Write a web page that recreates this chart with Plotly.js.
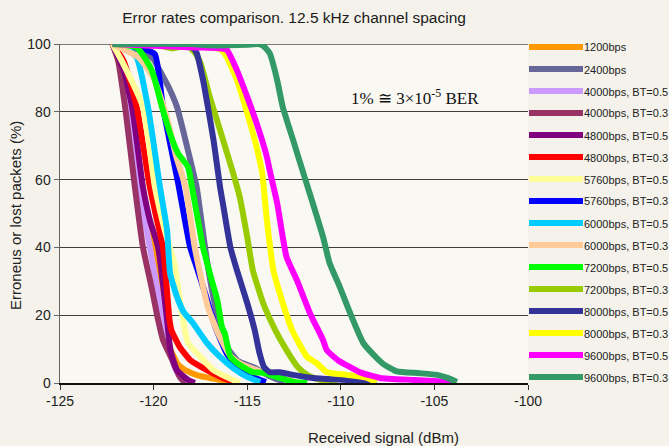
<!DOCTYPE html>
<html>
<head>
<meta charset="utf-8">
<script src="https://cdn.plot.ly/plotly-3.0.1.min.js"></script>
<style>
html,body{margin:0;padding:0;background:#f4f2ea;}
#chart{width:669px;height:446px;}
</style>
</head>
<body>
<div id="chart"></div>
<script>
// ---- series names & colours ----
const seriesNames = ['1200bps','2400bps','4000bps, BT=0.5','4000bps, BT=0.3','4800bps, BT=0.5','4800bps, BT=0.3',
  '5760bps, BT=0.5','5760bps, BT=0.3','6000bps, BT=0.5','6000bps, BT=0.3','7200bps, BT=0.5','7200bps, BT=0.3',
  '8000bps, BT=0.5','8000bps, BT=0.3','9600bps, BT=0.5','9600bps, BT=0.3'];
const seriesColors = ['#ff9900','#666699','#cc99ff','#993366','#800080','#ff0000','#ffff99','#0000ff',
  '#00ccff','#ffcc99','#00ff00','#99cc00','#333399','#ffff00','#ff00ff','#339966'];

// ---- x (received signal, dBm) and y (erroneous/lost packets, %) per series ----
const x1200 = [-122.2,-121.7,-121.2,-120.65,-120.2,-119.9,-119.6,-119.4,-119.1,-118.7,-118.2,-117.6,-116.8,-115.9];
const y1200 = [100,92,80,58,47,40,28,19,10,5.5,3.5,2.2,1.3,0.3];

const x2400 = [-122.2,-120.6,-120.0,-119.77,-119.2,-118.75,-118.3,-117.95,-117.7,-117.45,-117.2,-116.9,-116.5,-116.0,-115.5,-114.6,-113.8,-113.0];
const y2400 = [100,98,95.5,93.2,87.3,81.4,71.7,63.7,57.8,48,38,28,18,10,6.5,4.5,2.0,0.3];

const x4000a = [-122.2,-121.8,-121.3,-120.8,-120.2,-119.5,-119.15,-118.9,-118.5,-118.2];
const y4000a = [100,94,80,58,40,18.6,10,5,1,0];

const x4000b = [-122.2,-121.9,-121.5,-121.0,-120.57,-120.1,-119.76,-119.5,-119.0,-118.6,-118.3];
const y4000b = [100,95.3,80.5,57.8,40.1,28,18.6,12.7,6.8,1.8,0];

const x4800a = [-122.2,-121.6,-121.15,-120.57,-120.2,-119.76,-119.28,-119.1,-118.75,-118.15,-117.8];
const y4800a = [100,92.3,81.4,57.8,48,40.1,18.6,9.7,3.8,0.9,0];

const x4800b = [-122.2,-121.6,-120.9,-120.2,-119.9,-119.5,-119.15,-119.05,-118.6,-118.05,-117.15,-116.3,-115.5];
const y4800b = [100,95,81.4,57.8,50,40.1,18.6,15.6,10.6,6.8,3.8,1.5,0];

const x5760a = [-122.2,-121.7,-120.57,-119.93,-119.4,-118.9,-118.43,-118.16,-117.5,-116.8,-116.1,-115.4];
const y5760a = [100,95,81.4,57.8,45,35.4,18.6,11.8,7.7,3.8,1.8,0];

const x5760b = [-122.2,-121.3,-120.5,-119.93,-119.5,-118.65,-118.05,-117.7,-117.25,-116.7,-116.1,-115.55,-114.7,-114.0];
const y5760b = [100,99.5,98.5,97,81.4,57.8,40.1,34.2,26.5,16.5,8.8,4.7,1.8,0.3];

const x6000a = [-122.2,-121.5,-120.9,-120.3,-119.66,-119.28,-119.12,-118.75,-118.4,-117.9,-117.15,-116.45,-115.75,-115.0,-114.3];
const y6000a = [100,99,96,81.4,57.8,45,32.4,25.4,21,17.7,11.8,7.7,4.4,1.8,0.3];

const x6000b = [-122.2,-120.8,-120.0,-119.3,-118.8,-118.3,-117.8,-117.1,-116.5,-115.9,-115.4,-114.2,-113.1,-112.5];
const y6000b = [100,96,90,78.5,67,58,40,22.4,14,8,5.9,3.2,1.5,0.3];

const x7200a = [-122.2,-120.9,-120.1,-119.55,-119.0,-118.7,-118.16,-117.95,-117.36,-116.9,-116.6,-116.35,-116.2,-115.9,-115.4,-114.7,-114.15,-113.25,-112.5,-111.8];
const y7200a = [100,99,92.3,81.4,71.7,67.8,63.7,57.8,40.1,30.4,24.5,16.5,14.7,7.7,5.3,3.2,3.0,1.5,0.3,0];

const x7200b = [-122.2,-120.0,-119.0,-118.2,-117.8,-117.5,-117.0,-116.45,-115.8,-115.4,-115.0,-114.7,-114.15,-113.5,-112.9,-112.3,-111.8,-111.1,-110.2];
const y7200b = [100,100,98.7,99.5,97.5,94.4,84.4,74.6,62.8,54.9,43.1,33.3,23.6,15.6,9.7,4.7,2.4,0.9,0];

const x8000a = [-122.2,-118.5,-118.0,-117.7,-117.36,-117.1,-116.8,-116.45,-116.3,-115.9,-115.55,-115.0,-114.6,-114.35,-114.1,-113.8,-113.25,-112.55,-111.5,-109.7,-108.1];
const y8000a = [100,100,99.5,97.3,89.4,81.4,71.7,57.8,53,40.1,33.3,23.6,15.6,9,4.7,3.2,3.2,2.4,1.5,0.9,0.2];

const x8000b = [-122.2,-117.6,-117.0,-116.4,-116.1,-115.55,-115.0,-114.5,-114.2,-113.95,-113.6,-113.1,-112.6,-111.8,-111.3,-110.75,-109.7,-108.6,-108.1];
const y8000b = [100,99.2,99,98.3,96.2,89.4,79.6,69.6,62,48.1,33.3,23.6,15.6,7.7,5.9,3.2,2.4,1.5,0.2];

const x9600a = [-122.2,-117.8,-116.6,-116.1,-115.55,-115.0,-114.5,-113.95,-113.8,-113.4,-112.9,-112.35,-111.65,-110.95,-110.75,-110.1,-109.5,-109.0,-107.9,-106.1,-104.0];
const y9600a = [100,99,98.8,98.3,92.3,84.4,76.7,66.7,62.8,53.1,37.2,30.4,20.6,12.7,9.7,6.5,4.7,3.2,1.5,0.9,0.3];

const x9600b = [-122.2,-118.0,-117.0,-116.0,-115.0,-114.4,-114.15,-113.8,-113.4,-113.1,-112.55,-112.0,-111.5,-110.95,-110.6,-110.05,-109.5,-108.8,-108.1,-107.7,-107.0,-105.8,-104.85,-104.3,-103.8];
const y9600b = [100,100,99.6,99.6,99.8,100,99.5,97.3,89.4,81.4,71.7,61.9,53.1,43.1,35.4,28.3,20.6,11.8,7.5,5.5,3.4,2.9,2.4,1.5,0.3];

const seriesX = [x1200,x2400,x4000a,x4000b,x4800a,x4800b,x5760a,x5760b,x6000a,x6000b,x7200a,x7200b,x8000a,x8000b,x9600a,x9600b];
const seriesY = [y1200,y2400,y4000a,y4000b,y4800a,y4800b,y5760a,y5760b,y6000a,y6000b,y7200a,y7200b,y8000a,y8000b,y9600a,y9600b];

// ---- axis ticks ----
const xTickVals = [-125,-120,-115,-110,-105,-100];
const xTickText = ['-125','-120','-115','-110','-105','-100'];
const yTickVals = [0,20,40,60,80,100];

// ---- layout geometry (pixels) ----
const W = 669, H = 446;
const M = {l:60, r:141, t:44, b:63};
const PW = W - M.l - M.r, PH = H - M.t - M.b;
const px2paperX = px => (px - M.l) / PW;
const py2paperY = py => (H - M.b - py) / PH;

const traces = seriesNames.map((n,i) => ({
  type:'scatter', mode:'lines', name:n,
  x: seriesX[i], y: seriesY[i],
  line:{color: seriesColors[i], width:6, shape:'spline', smoothing:0.5},
  hoverinfo:'skip', showlegend:false
}));

const shapes = [
  {type:'line', xref:'paper', yref:'y', x0:0, x1:1, y0:100, y1:100, line:{color:'#7a7a7a', width:2}, layer:'below'}
];
const annotations = [];
// manual legend built from names/colours
seriesNames.forEach((n,i) => {
  const py = 47 + 22*i;
  shapes.push({type:'line', xref:'paper', yref:'paper',
    x0:px2paperX(529), x1:px2paperX(583), y0:py2paperY(py), y1:py2paperY(py),
    line:{color:seriesColors[i], width:6}});
  annotations.push({xref:'paper', yref:'paper', x:px2paperX(582), y:py2paperY(py+0.5),
    xanchor:'left', yanchor:'middle', showarrow:false, text:n,
    font:{family:'Liberation Sans, Arial, sans-serif', size:11, color:'#222'}});
});
annotations.push({xref:'paper', yref:'paper', x:px2paperX(415), y:py2paperY(97),
  xanchor:'center', yanchor:'middle', showarrow:false,
  text:'1% \u2245 3\u00d710<sup>-5</sup> BER',
  font:{family:'Liberation Serif, Times New Roman, serif', size:17, color:'#111'}});
annotations.push({xref:'paper', yref:'paper', x:px2paperX(383), y:py2paperY(437),
  xanchor:'center', yanchor:'middle', showarrow:false,
  text:'Received signal (dBm)',
  font:{family:'Liberation Sans, Arial, sans-serif', size:15, color:'#222'}});
annotations.push({xref:'paper', yref:'paper', x:px2paperX(15), y:py2paperY(216),
  xanchor:'center', yanchor:'middle', showarrow:false, textangle:-90,
  text:'Erroneus or lost packets (%)',
  font:{family:'Liberation Sans, Arial, sans-serif', size:15, color:'#222'}});

const layout = {
  width:W, height:H, margin:M,
  paper_bgcolor:'#f4f2ea', plot_bgcolor:'#f9f8f3',
  showlegend:false,
  title:{text:'Error rates comparison. 12.5 kHz channel spacing', x:0.5, xref:'paper',
    y:1-18/H, yref:'container', yanchor:'middle',
    font:{family:'Liberation Sans, Arial, sans-serif', size:15.5, color:'#1a1a1a'}},
  xaxis:{range:[-125,-100], tickmode:'array', tickvals:xTickVals, ticktext:xTickText,
    showgrid:false, zeroline:false, showline:true, linecolor:'#111', linewidth:1.5,
    ticks:'outside', ticklen:5, tickcolor:'#333', tickwidth:1,
    tickfont:{family:'Liberation Sans, Arial, sans-serif', size:14, color:'#222'}, fixedrange:true},
  yaxis:{range:[0,100], tickmode:'array', tickvals:yTickVals,
    showgrid:true, gridcolor:'#3c3c3c', gridwidth:1, zeroline:false,
    showline:true, linecolor:'#666', linewidth:1.5,
    ticks:'outside', ticklen:5, tickcolor:'#666', tickwidth:1,
    tickfont:{family:'Liberation Sans, Arial, sans-serif', size:14, color:'#222'}, fixedrange:true},
  shapes:shapes, annotations:annotations
};

Plotly.newPlot('chart', traces, layout, {staticPlot:true, displayModeBar:false});
</script>
</body>
</html>
